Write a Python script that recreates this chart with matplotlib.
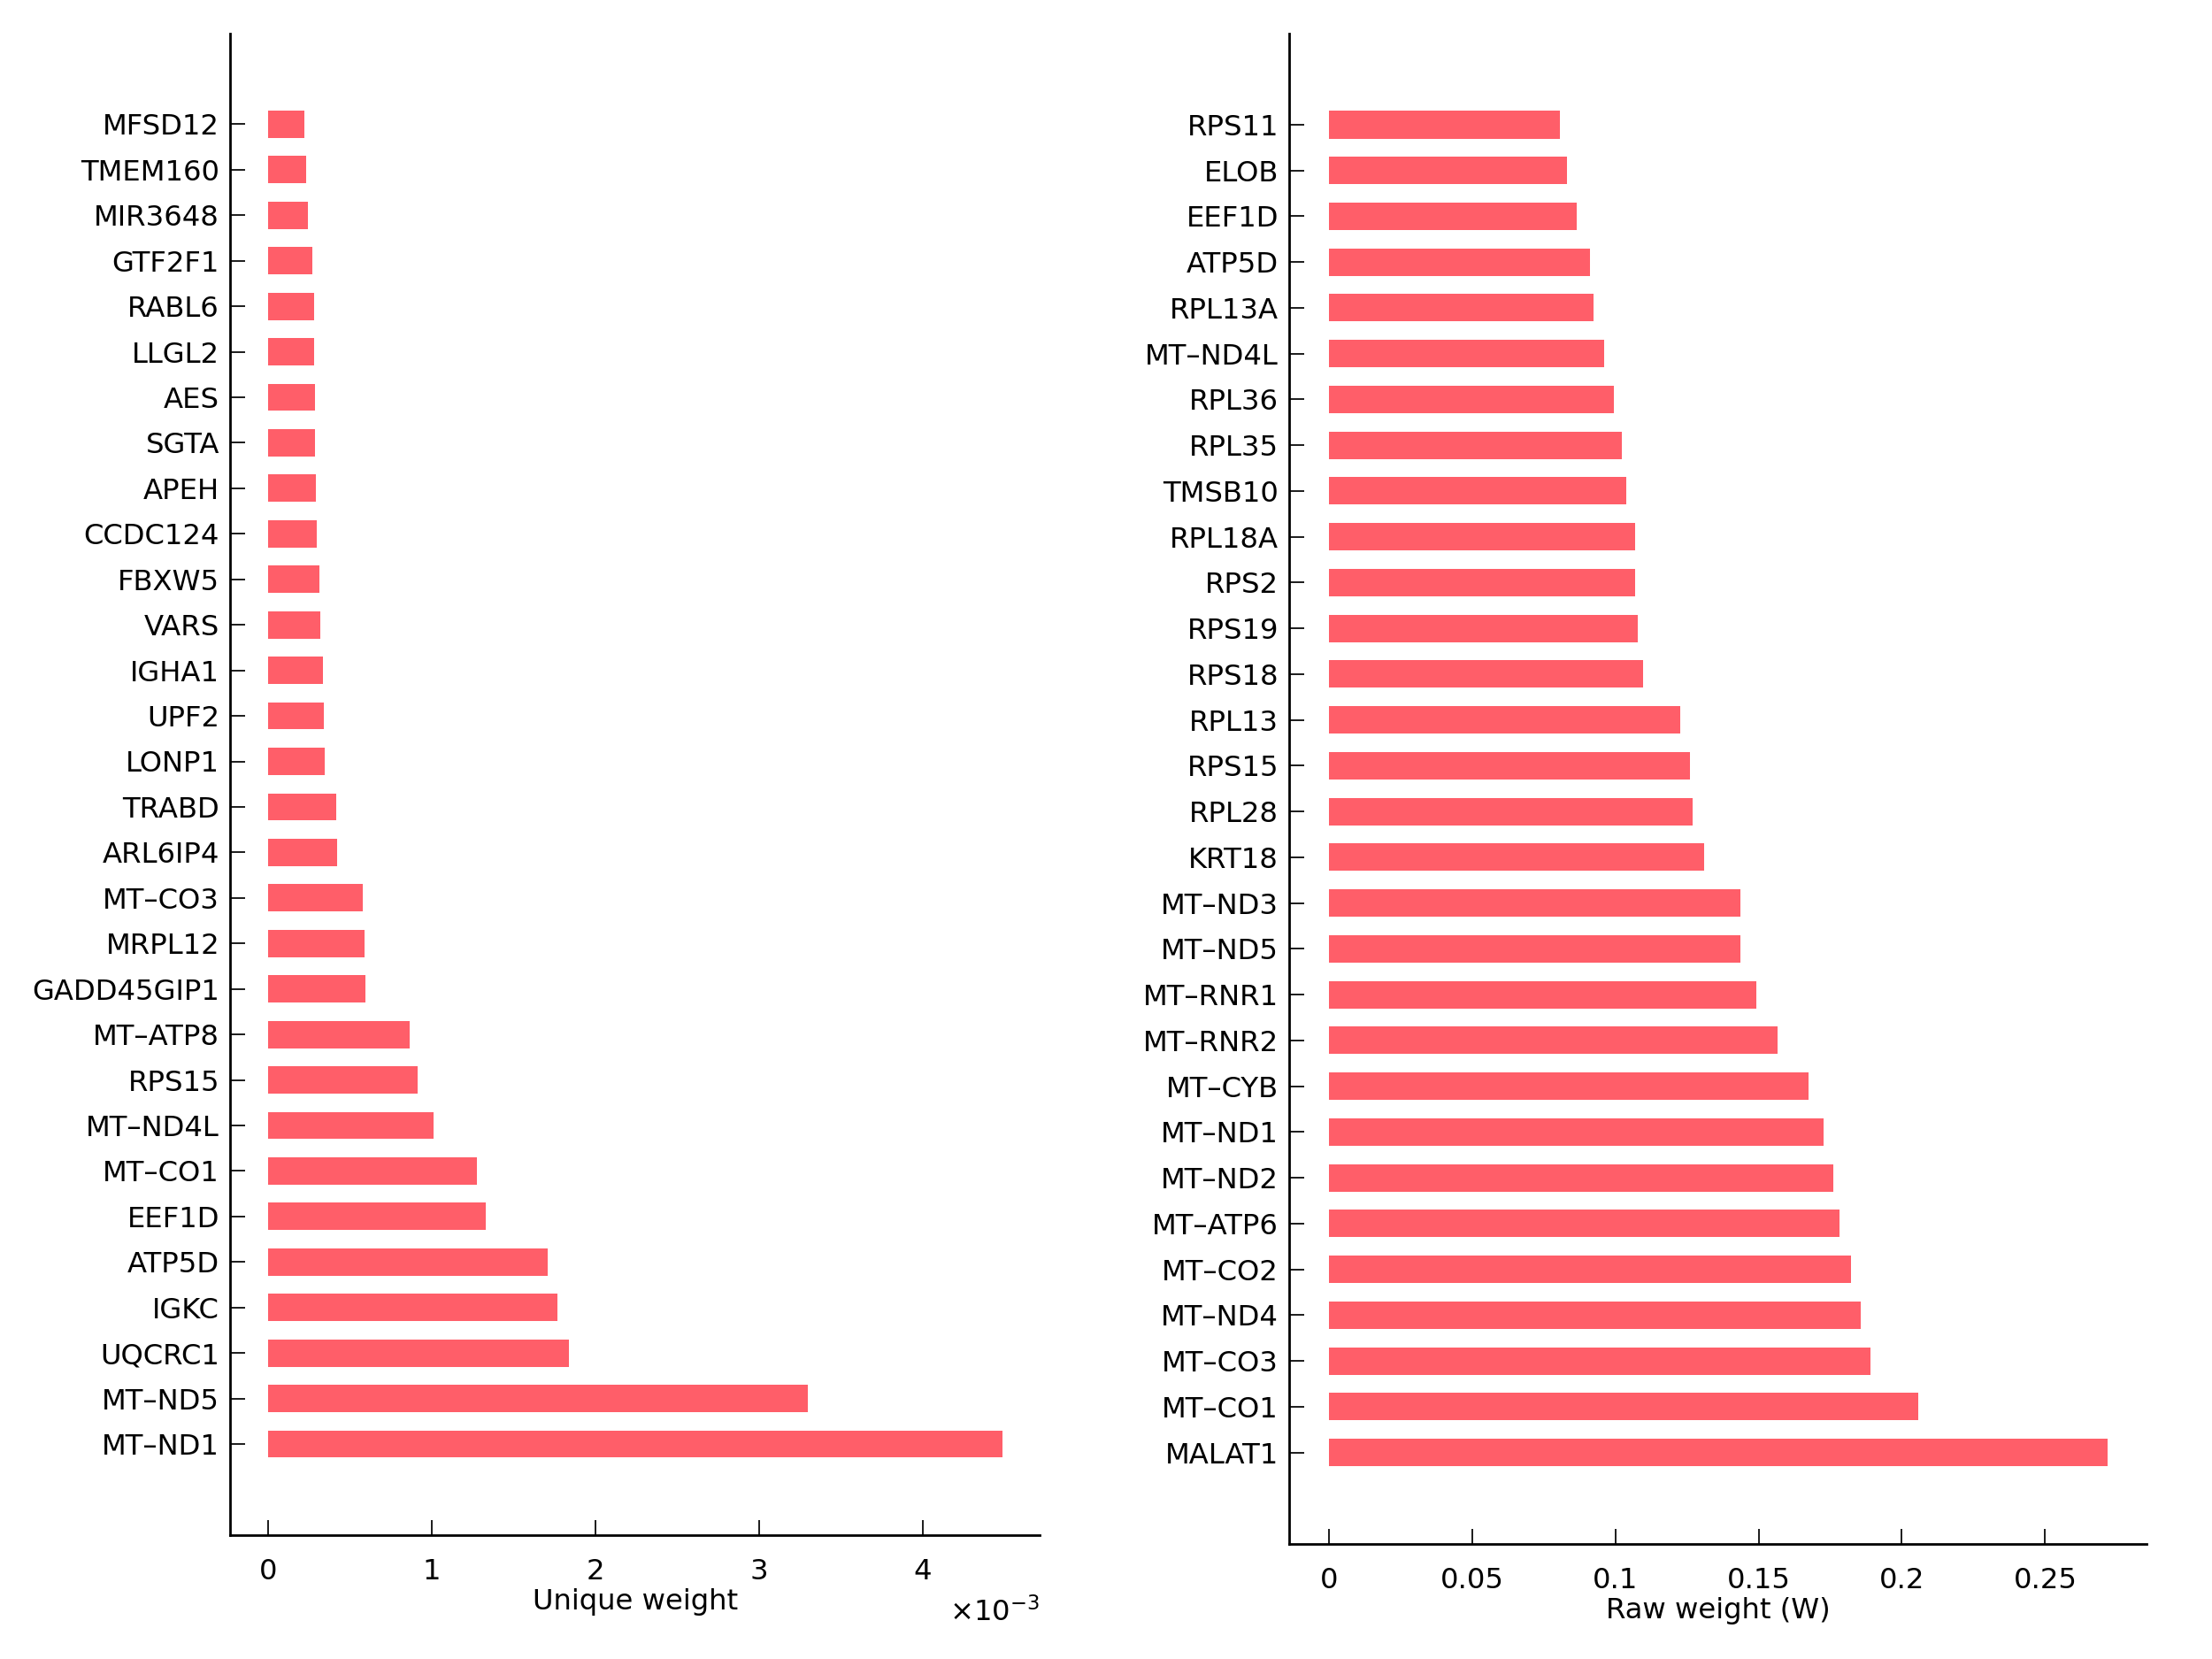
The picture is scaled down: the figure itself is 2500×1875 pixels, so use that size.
import matplotlib
matplotlib.use('Agg')
import matplotlib.pyplot as plt
from matplotlib.ticker import FuncFormatter

# left panel: unique weight (top to bottom as drawn)
unique_genes = ['MFSD12', 'TMEM160', 'MIR3648', 'GTF2F1', 'RABL6', 'LLGL2', 'AES',
                'SGTA', 'APEH', 'CCDC124', 'FBXW5', 'VARS', 'IGHA1', 'UPF2', 'LONP1',
                'TRABD', 'ARL6IP4', 'MT-CO3', 'MRPL12', 'GADD45GIP1', 'MT-ATP8',
                'RPS15', 'MT-ND4L', 'MT-CO1', 'EEF1D', 'ATP5D', 'IGKC', 'UQCRC1',
                'MT-ND5', 'MT-ND1']
unique_weight = [0.220e-3, 0.233e-3, 0.243e-3, 0.267e-3, 0.278e-3, 0.279e-3, 0.283e-3,
                 0.284e-3, 0.293e-3, 0.294e-3, 0.310e-3, 0.319e-3, 0.336e-3, 0.338e-3,
                 0.345e-3, 0.414e-3, 0.422e-3, 0.578e-3, 0.586e-3, 0.595e-3, 0.862e-3,
                 0.914e-3, 1.009e-3, 1.276e-3, 1.328e-3, 1.707e-3, 1.767e-3, 1.837e-3,
                 3.297e-3, 4.490e-3]
unique_ticks = [0, 1e-3, 2e-3, 3e-3, 4e-3]

# right panel: raw weight
raw_genes = ['RPS11', 'ELOB', 'EEF1D', 'ATP5D', 'RPL13A', 'MT-ND4L', 'RPL36', 'RPL35',
             'TMSB10', 'RPL18A', 'RPS2', 'RPS19', 'RPS18', 'RPL13', 'RPS15', 'RPL28',
             'KRT18', 'MT-ND3', 'MT-ND5', 'MT-RNR1', 'MT-RNR2', 'MT-CYB', 'MT-ND1',
             'MT-ND2', 'MT-ATP6', 'MT-CO2', 'MT-ND4', 'MT-CO3', 'MT-CO1', 'MALAT1']
raw_weight = [0.0807, 0.0832, 0.0866, 0.0910, 0.0925, 0.0960, 0.0994, 0.1024,
              0.1038, 0.1068, 0.1068, 0.1078, 0.1097, 0.1225, 0.1260, 0.1270,
              0.1309, 0.1437, 0.1437, 0.1491, 0.1565, 0.1673, 0.1727,
              0.1762, 0.1781, 0.1821, 0.1855, 0.1890, 0.2057, 0.2717]
raw_ticks = [0, 0.05, 0.1, 0.15, 0.2, 0.25]

bar_color = '#FF5E69'
plt.rcParams['font.family'] = ['DejaVu Sans']
plt.rcParams['font.size'] = 9.3


def style_axes(ax, genes, values, ticks, xlim):
    n = len(genes)
    pos = list(range(n, 0, -1))
    ax.barh(pos, values, height=0.6, color=bar_color, edgecolor='none')
    ax.set_ylim(-1, n + 2)
    ax.set_xlim(*xlim)
    ax.set_yticks(pos)
    ax.set_yticklabels([g.replace('-', '\u2013') for g in genes])
    ax.set_xticks(ticks)
    ax.spines['top'].set_visible(False)
    ax.spines['right'].set_visible(False)
    ax.spines['left'].set_linewidth(0.8)
    ax.spines['bottom'].set_linewidth(0.8)
    ax.tick_params(axis='both', direction='in', length=4.8, width=0.5)
    ax.tick_params(axis='x', pad=7.5)
    ax.tick_params(axis='y', pad=3.5)


fig = plt.figure(figsize=(10, 7.5), dpi=250)

ax1 = fig.add_axes([0.1041, 0.0747, 0.4700 - 0.1041, 0.980 - 0.0747])
style_axes(ax1, unique_genes, unique_weight, unique_ticks, (-0.233e-3, 4.716e-3))
ax1.xaxis.set_major_formatter(FuncFormatter(lambda v, p: '%g' % round(v * 1e3, 6)))
ax1.set_xlabel('Unique weight', labelpad=0.8)
ax1.text(1.0, -0.051, r'$\times\mathdefault{10^{-3}}$', transform=ax1.transAxes,
         ha='right', va='center', fontsize=9.3)

ax2 = fig.add_axes([0.5829, 0.0693, 0.9704 - 0.5829, 0.980 - 0.0693])
style_axes(ax2, raw_genes, raw_weight, raw_ticks, (-0.0138, 0.2854))
ax2.xaxis.set_major_formatter(FuncFormatter(lambda v, p: '%g' % v))
ax2.set_xlabel('Raw weight (W)', labelpad=0.8)

fig.savefig('out.png', dpi=250, facecolor='white')
